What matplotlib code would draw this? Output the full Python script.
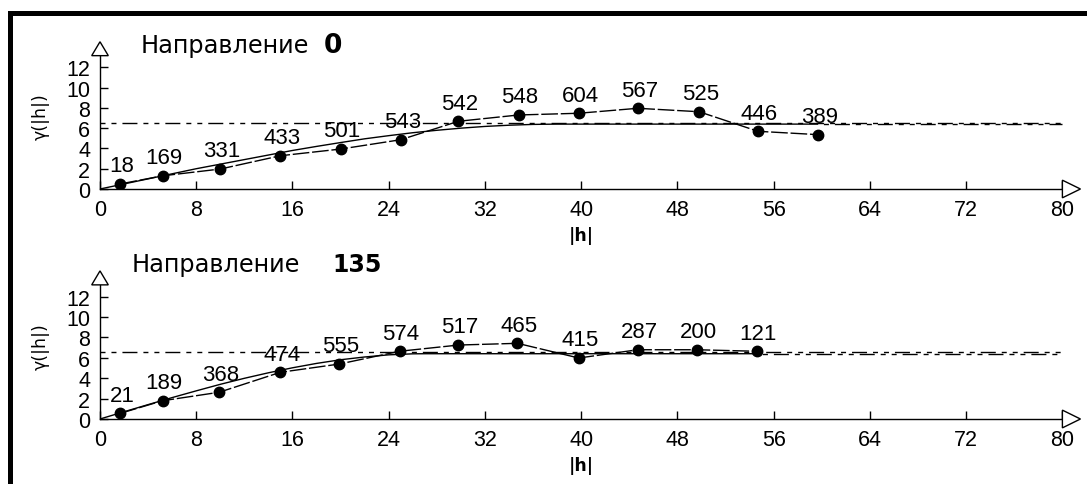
import numpy as np
import matplotlib
matplotlib.use("Agg")
import matplotlib.pyplot as plt
from matplotlib.patches import Polygon, Rectangle

# ---------------- data ----------------
lags_0 = [1.7, 5.2, 10.0, 15.0, 20.0, 25.0, 29.8, 34.8, 39.8, 44.7, 49.8, 54.7, 59.7]
gamma_0 = [0.50, 1.30, 1.97, 3.28, 3.94, 4.86, 6.68, 7.30, 7.47, 7.96, 7.62, 5.69, 5.36]
pairs_0 = [18, 169, 331, 433, 501, 543, 542, 548, 604, 567, 525, 446, 389]

lags_135 = [1.7, 5.2, 9.9, 15.0, 19.9, 24.9, 29.8, 34.7, 39.8, 44.7, 49.6, 54.6]
gamma_135 = [0.56, 1.79, 2.62, 4.58, 5.39, 6.64, 7.25, 7.42, 5.98, 6.79, 6.79, 6.64]
pairs_135 = [21, 189, 368, 474, 555, 574, 517, 465, 415, 287, 200, 121]

# model curves
model_x_0 = [0, 2, 4, 6, 8, 10, 12, 14, 16, 18, 20, 22, 24, 26, 28, 30, 32, 34, 36, 38, 59.7]
model_y_0 = [0, 0.50, 1.00, 1.50, 2.00, 2.45, 2.90, 3.35, 3.80, 4.20, 4.58, 4.95, 5.26,
             5.55, 5.79, 6.00, 6.17, 6.29, 6.37, 6.40, 6.40]
model_x_135 = [0, 2, 4, 6, 8, 10, 12, 14, 16, 18, 20, 22, 24, 26, 27, 54.6]
model_y_135 = [0, 0.71, 1.41, 2.10, 2.76, 3.40, 3.99, 4.53, 5.02, 5.45, 5.81, 6.08, 6.29,
               6.39, 6.40, 6.40]
sill = 6.55
model_sill = 6.40

titles_dir = ["0", "135"]
xticks = list(range(0, 81, 8))
yticks = list(range(0, 13, 2))

# ---------------- figure ----------------
W, H = 1087, 485
fig = plt.figure(figsize=(W / 100, H / 100), dpi=100)
fig.patch.set_facecolor("white")

num_font = "Liberation Sans"
txt_font = "DejaVu Sans"

# window frame remnants (thick black bars)
fig.add_artist(Rectangle((8 / W, 1 - 17 / H), 1 - 8 / W, 5 / H, transform=fig.transFigure,
                         facecolor="black", edgecolor="none"))
fig.add_artist(Rectangle((8 / W, 0), 5 / W, 1 - 12 / H, transform=fig.transFigure,
                         facecolor="black", edgecolor="none"))

x0_px, x_scale = 100, 12.03
xmax = 81.6
ymax = 14.6
sill_dash = (3.6, 4.3, 3.6, 4.3, 10.8, 4.3)


def panel(axis_y_px, yscale, lags, gam, pairs, mx, my, tail_start, title_dir,
          title_x, title_base, bold_x, bold_size):
    left = x0_px / W
    width = xmax * x_scale / W
    hpx = ymax * yscale
    bottom = (H - axis_y_px) / H
    ax = fig.add_axes([left, bottom, width, hpx / H])
    ax.set_xlim(0, xmax)
    ax.set_ylim(0, ymax)
    ax.patch.set_alpha(0)
    for s in ("top", "right"):
        ax.spines[s].set_visible(False)
    ax.spines["left"].set_bounds(0, 13.15)
    ax.spines["bottom"].set_bounds(0, 80)
    for s in ("left", "bottom"):
        ax.spines[s].set_linewidth(1.0)
    ax.set_xticks(xticks)
    ax.set_yticks(yticks)
    ax.tick_params(direction="in", length=6, width=1.0, pad=7)
    for lab in ax.get_xticklabels() + ax.get_yticklabels():
        lab.set_fontfamily(num_font)
        lab.set_fontsize(15.5)

    # arrows (open triangles)
    ax.add_patch(Polygon([[-0.69, 13.15], [0.69, 13.15], [0, 14.52]], closed=True,
                         facecolor="white", edgecolor="black", lw=1.0, clip_on=False, zorder=5))
    ax.add_patch(Polygon([[80, -0.87], [80, 0.87], [81.5, 0]], closed=True,
                         facecolor="white", edgecolor="black", lw=1.0, clip_on=False, zorder=5))

    # sill
    ax.plot([0, 80], [sill, sill], color="black", lw=1.0, linestyle=(0, sill_dash))
    # model
    ax.plot(mx, my, color="black", lw=1.0, solid_capstyle="butt")
    ax.plot([tail_start, 80], [model_sill, model_sill], color="black", lw=1.0,
            linestyle=(4, sill_dash))
    # experimental
    ax.plot(lags, gam, color="black", lw=1.0, linestyle=(0, (12, 2)))
    ax.plot(lags, gam, linestyle="none", marker="o", markersize=7.5,
            color="black", zorder=6)
    for x, y, n in zip(lags, gam, pairs):
        ax.annotate(str(n), (x, y), xytext=(1, 5.5), textcoords="offset points",
                    ha="center", va="bottom", fontsize=16, family=num_font, zorder=7)

    ax.set_ylabel("γ(|h|)", fontsize=12.5, family=txt_font)
    ax.yaxis.set_label_coords(-(x0_px - 50) / (xmax * x_scale), 73 / hpx)
    ax.set_xlabel("|h|", fontsize=12.5, fontweight="bold", family=txt_font)
    ax.xaxis.set_label_coords(40 / xmax, -37 / hpx)

    fig.text(title_x / W, 1 - title_base / H, "Направление", fontsize=17.3,
             family=txt_font, va="baseline", ha="left")
    fig.text(bold_x / W, 1 - title_base / H, title_dir, fontsize=bold_size,
             family=txt_font, fontweight="bold", va="baseline", ha="left")
    return ax


panel(190, 10.14, lags_0, gamma_0, pairs_0, model_x_0, model_y_0, lags_0[-1],
      titles_dir[0], 141, 53.3, 324, 19)
panel(420, 10.2, lags_135, gamma_135, pairs_135, model_x_135, model_y_135, lags_135[-1],
      titles_dir[1], 132, 271.7, 332, 17)

fig.savefig("out.png", dpi=100)
